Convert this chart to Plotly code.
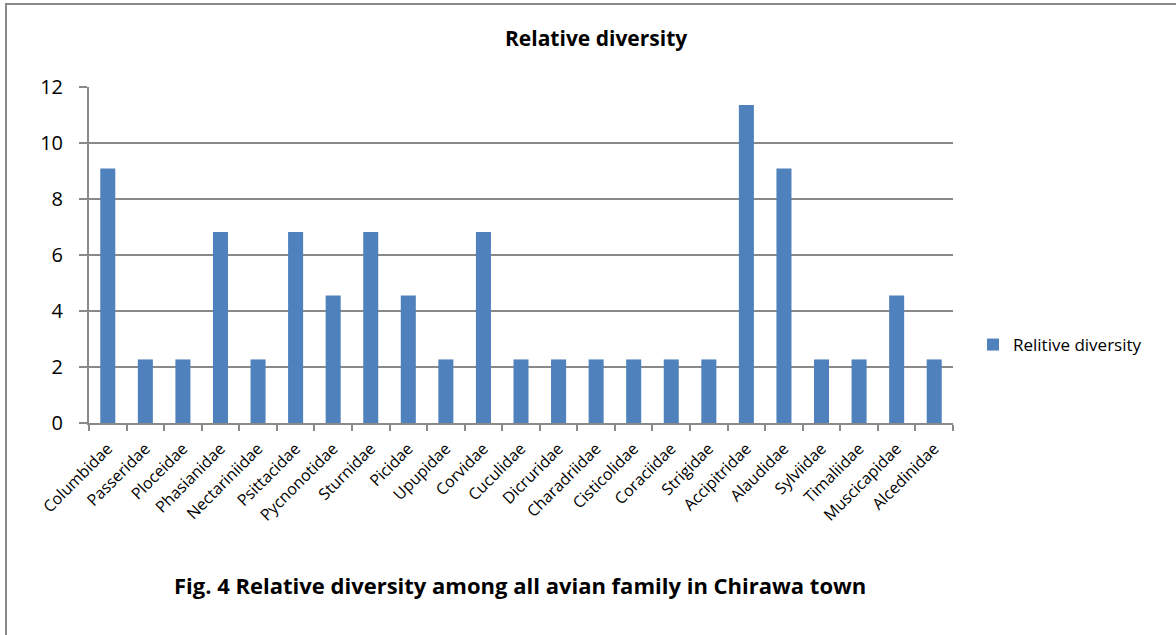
import plotly.graph_objects as go

families = ["Columbidae", "Passeridae", "Ploceidae", "Phasianidae", "Nectariniidae",
            "Psittacidae", "Pycnonotidae", "Sturnidae", "Picidae", "Upupidae", "Corvidae",
            "Cuculidae", "Dicruridae", "Charadriidae", "Cisticolidae", "Coraciidae",
            "Strigidae", "Accipitridae", "Alaudidae", "Sylviidae", "Timaliidae",
            "Muscicapidae", "Alcedinidae"]
relative_diversity = [9.09, 2.27, 2.27, 6.82, 2.27, 6.82, 4.55, 6.82, 4.55, 2.27, 6.82,
                      2.27, 2.27, 2.27, 2.27, 2.27, 2.27, 11.36, 9.09, 2.27, 2.27,
                      4.55, 2.27]
y_ticks = [0, 2, 4, 6, 8, 10, 12]

W, H = 1176, 635
L, R, T, B = 89, 953, 87, 423

def px_x(p):
    return (p - L) / (R - L)

def px_y(p):
    return (B - p) / (B - T)

FONT = "Open Sans, sans-serif"
GRID = "#898989"

fig = go.Figure()
fig.add_trace(go.Bar(
    x=families, y=relative_diversity, name="Relitive diversity",
    marker=dict(color="#4F81BD", line=dict(width=0)),
))

fig.update_layout(
    width=W, height=H,
    margin=dict(l=L, r=W - R, t=T, b=H - B),
    paper_bgcolor="white", plot_bgcolor="white",
    font=dict(family=FONT, color="black"),
    bargap=0.6,
    showlegend=True,
    legend=dict(x=px_x(973), y=px_y(345), xanchor="left", yanchor="middle",
                font=dict(size=17, family=FONT), itemwidth=30,
                bgcolor="rgba(0,0,0,0)"),
    xaxis=dict(
        type="category", tickson="boundaries", ticks="outside", ticklen=6,
        tickcolor=GRID, tickwidth=2, showline=True, linecolor=GRID, linewidth=2,
        tickangle=-45, tickfont=dict(size=16, family=FONT), showgrid=False,
        ticklabelstandoff=8,
    ),
    yaxis=dict(
        range=[0, 12], tickvals=y_ticks, ticks="outside", ticklen=8,
        tickcolor=GRID, tickwidth=2, showline=True, linecolor=GRID, linewidth=2,
        showgrid=True, gridcolor=GRID, gridwidth=2, zeroline=False,
        tickfont=dict(size=20, family=FONT), ticklabelstandoff=12,
    ),
    annotations=[
        dict(text="<b>Relative diversity</b>", x=px_x(596), y=px_y(38),
             xref="paper", yref="paper", showarrow=False,
             xanchor="center", yanchor="middle", font=dict(size=21, family=FONT)),
        dict(text="<b>Fig. 4 Relative diversity among all avian family in Chirawa town</b>",
             x=px_x(520), y=px_y(585), xref="paper", yref="paper", showarrow=False,
             xanchor="center", yanchor="middle", font=dict(size=22, family=FONT)),
    ],
    shapes=[
        dict(type="rect", xref="paper", yref="paper",
             x0=px_x(6), x1=px_x(1185), y0=px_y(642), y1=px_y(4),
             line=dict(color=GRID, width=2), fillcolor="rgba(0,0,0,0)", layer="below"),
    ],
)

fig.write_html("out.html")
